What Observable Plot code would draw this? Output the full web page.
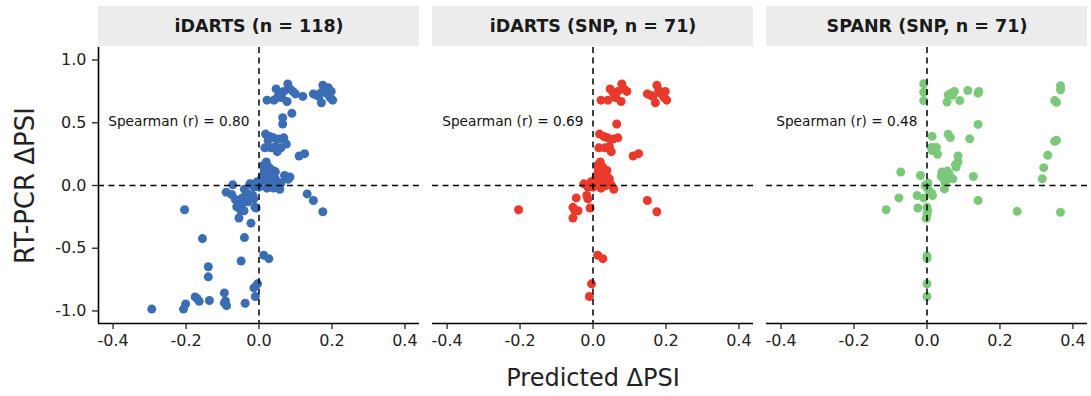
<!DOCTYPE html>
<html><head><meta charset="utf-8">
<script src="https://cdn.jsdelivr.net/npm/d3@7"></script>
<script src="https://cdn.jsdelivr.net/npm/@observablehq/plot@0.6"></script>
<style>
body{margin:0;background:#fff;}
#chart svg{font-family:"DejaVu Sans",Arial,sans-serif;}
</style></head><body><div id="chart"></div>
<script>
const panels = ["iDARTS (n = 118)", "iDARTS (SNP, n = 71)", "SPANR (SNP, n = 71)"];
const colors = ["#3a6db4", "#e8392b", "#7cc87a"];
const spearman = ["Spearman (r) = 0.80", "Spearman (r) = 0.69", "Spearman (r) = 0.48"];
const xTicks = [-0.4, -0.2, 0, 0.2, 0.4];
const yTicks = [-1, -0.5, 0, 0.5, 1];

// iDARTS on SNP events (panel 2; also part of panel 1)
const snpX = [0.022,0.041,0.047,0.055,0.068,0.079,0.093,0.077,0.060,0.085,
  0.149,0.175,0.164,0.171,0.198,0.202,0.187,0.180,0.158,
  0.065,0.018,0.030,0.055,0.068,0.016,0.032,0.050,0.110,0.125,0.040,0.045,
  0.020,0.027,0.038,0.013,0.024,0.040,0.010,0.022,0.034,0.045,0.000,0.022,0.057,-0.025,-0.014,0.030,0.015,0.030,0.050,0.008,
  -0.046,-0.017,-0.014,-0.008,-0.055,-0.041,-0.055,-0.204,0.149,0.175,-0.050,
  0.013,0.027,-0.004,-0.010,
  0.035,0.012,-0.005,0.062,0.195];
const snpY = [0.68,0.68,0.77,0.74,0.75,0.81,0.75,0.67,0.73,0.77,
  0.73,0.80,0.71,0.66,0.75,0.68,0.73,0.76,0.72,
  0.49,0.41,0.39,0.37,0.38,0.30,0.30,0.27,0.235,0.254,0.38,0.31,
  0.187,0.147,0.120,0.094,0.080,0.062,0.040,0.027,0.013,0.053,-0.013,-0.021,-0.030,0.013,-0.013,0.10,0.12,0.035,0.005,0.065,
  -0.099,-0.080,-0.107,-0.179,-0.174,-0.201,-0.259,-0.193,-0.120,-0.209,-0.20,
  -0.556,-0.583,-0.784,-0.885,
  0.0,0.16,0.03,0.70,0.70];

// additional iDARTS events (non-SNP) shown only in panel 1
const extraX = [0.090,0.065,
  -0.072,-0.090,-0.075,-0.033,-0.061,-0.022,-0.011,-0.030,-0.045,-0.065,-0.040,-0.020,
  -0.155,-0.040,-0.049,-0.139,-0.139,-0.014,
  -0.095,-0.175,-0.164,-0.136,-0.095,-0.089,-0.038,-0.201,-0.207,-0.294,-0.170,-0.092,
  0.132,0.085,0.080,0.060,0.070,0.045,
  0.050,0.100,0.120,0.170,0.190,
  0.060,0.025,0.075,
  0.040];
const extraY = [0.575,0.54,
  0.005,-0.053,-0.072,-0.061,-0.169,-0.300,-0.174,-0.13,-0.14,-0.11,-0.03,0.01,
  -0.423,-0.415,-0.602,-0.648,-0.728,-0.816,
  -0.856,-0.888,-0.923,-0.917,-0.936,-0.958,-0.939,-0.944,-0.985,-0.985,-0.90,-0.92,
  -0.067,0.067,0.050,0.02,0.08,0.11,
  0.70,0.73,0.71,0.74,0.78,
  0.30,0.36,0.33,
  -0.02];

// SPANR on SNP events (panel 3)
const spanrX = [-0.009,-0.009,-0.009,0.058,0.066,0.075,0.055,0.090,0.112,0.140,0.142,0.366,0.366,0.350,0.355,
  0.140,0.014,0.058,0.064,0.117,0.350,0.355,0.012,0.026,0.029,0.014,0.331,0.085,0.085,0.080,0.320,
  0.041,0.039,0.056,0.071,0.048,0.127,0.316,-0.072,-0.018,0.003,0.000,0.048,0.015,-0.009,-0.027,-0.077,0.140,-0.112,-0.025,0.000,0.000,-0.002,0.247,0.366,0.000,0.000,0.000,0.000,
  0.020,0.045,0.060,0.005,0.012,0.060,0.020,0.078,-0.005,0.050,0.070,0.002];
const spanrY = [0.811,0.744,0.677,0.722,0.736,0.749,0.666,0.677,0.757,0.736,0.75,0.795,0.763,0.677,0.663,
  0.487,0.393,0.409,0.382,0.372,0.353,0.36,0.302,0.302,0.249,0.278,0.241,0.235,0.187,0.147,0.142,
  0.107,0.072,0.115,0.053,0.040,0.072,0.053,0.107,0.080,0.019,-0.013,-0.027,-0.080,-0.099,-0.080,-0.099,-0.120,-0.193,-0.179,-0.174,-0.233,-0.262,-0.206,-0.214,-0.562,-0.58,-0.784,-0.885,
  0.28,0.09,0.06,-0.04,-0.06,0.10,0.30,0.165,0.0,0.02,0.72,-0.2];

const data = [];
snpX.forEach((x, i) => data.push({panel: panels[0], x, y: snpY[i]}));
extraX.forEach((x, i) => data.push({panel: panels[0], x, y: extraY[i]}));
snpX.forEach((x, i) => data.push({panel: panels[1], x, y: snpY[i]}));
spanrX.forEach((x, i) => data.push({panel: panels[2], x, y: spanrY[i]}));

const labels = panels.map((p, i) => ({p, s: spearman[i]}));
const fmt = d => d.toFixed(1);
const dash = {stroke: "black", strokeWidth: 1.5, strokeDasharray: "6,4.5"};
const font = '"DejaVu Sans", Arial, sans-serif';

const plot = Plot.plot({
  width: 1091, height: 396,
  marginLeft: 98, marginRight: 4, marginTop: 47, marginBottom: 73,
  style: {fontFamily: font, fontSize: "16px", color: "#222", background: "#fff"},
  fx: {domain: panels, paddingInner: 0.039, paddingOuter: 0, axis: null, label: null},
  x: {domain: [-0.44, 0.44]},
  y: {domain: [-1.1, 1.1]},
  color: {domain: panels, range: colors},
  marks: [
    Plot.rect(panels, {fx: d => d, x1: -0.44, x2: 0.44, y1: 1.108, y2: 1.427, fill: "#ececec"}),
    Plot.text(panels, {fx: d => d, x: 0, y: 1.267, text: d => d, fontWeight: "bold", fontSize: 17.5, fill: "#1a1a1a"}),
    Plot.dot(data, {fx: "panel", x: "x", y: "y", r: 4.5, fill: "panel", stroke: "none"}),
    Plot.ruleX([0], dash),
    Plot.ruleY([0], dash),
    Plot.text(labels, {fx: "p", x: -0.026, y: 0.51, text: "s", textAnchor: "end", fontSize: 13.7, fill: "#111"}),
    Plot.ruleY([-1.1], {stroke: "black", strokeWidth: 1.6}),
    Plot.ruleX([-0.44], {x: d => d, fx: () => panels[0], stroke: "black", strokeWidth: 1.6}),
    Plot.axisX({ticks: xTicks, tickFormat: fmt, tickSize: 6, tickPadding: 5, fontSize: 16, label: null, strokeWidth: 1.3}),
    Plot.axisY({ticks: yTicks, tickFormat: fmt, tickSize: 6, tickPadding: 6, fontSize: 16, label: null, strokeWidth: 1.3}),
    Plot.text([panels[1]], {fx: d => d, frameAnchor: "bottom", dy: 55, lineAnchor: "middle", textAnchor: "middle", text: () => "Predicted ΔPSI", fontSize: 24, fill: "#222"}),
    Plot.text([panels[0]], {fx: d => d, frameAnchor: "left", dx: -73, rotate: -90, lineAnchor: "middle", textAnchor: "middle", text: () => "RT-PCR ΔPSI", fontSize: 26, fill: "#222"})
  ]
});
document.getElementById("chart").appendChild(plot);
</script>
</body></html>
